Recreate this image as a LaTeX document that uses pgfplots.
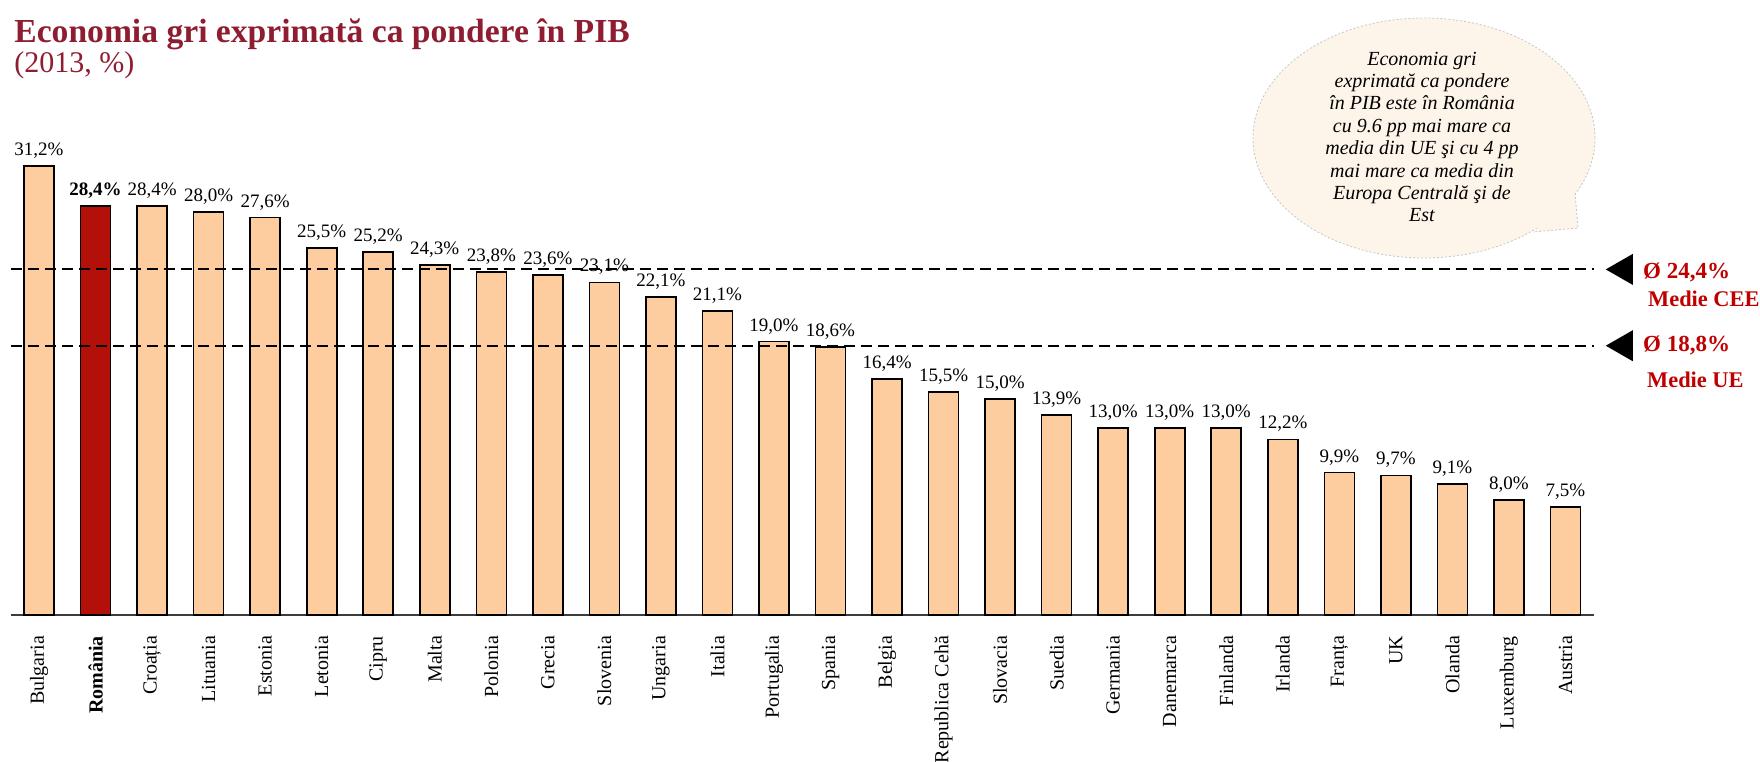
\documentclass[border=0pt]{standalone}
\usepackage{fontspec}
\setmainfont{Liberation Serif}
\usepackage{pgfplots}
\pgfplotsset{compat=1.18}
\usetikzlibrary{calc}

\definecolor{peach}{RGB}{253,205,160}
\definecolor{rored}{RGB}{178,16,8}
\definecolor{titlered}{RGB}{143,29,49}
\definecolor{avgred}{RGB}{192,0,0}
\definecolor{bubble}{RGB}{253,245,233}
\definecolor{axisgray}{RGB}{60,60,60}

% values in %, 2013
\pgfplotstableread{
x y
0 31.2
2 28.4
3 28.0
4 27.6
5 25.5
6 25.2
7 24.3
8 23.8
9 23.6
10 23.1
11 22.1
12 21.1
13 19.0
14 18.6
15 16.4
16 15.5
17 15.0
18 13.9
19 13.0
20 13.0
21 13.0
22 12.2
23 9.9
24 9.7
25 9.1
26 8.0
27 7.5
}\others

\begin{document}
\begin{tikzpicture}
\path[use as bounding box] (0,0) rectangle (880pt,380.5pt);

% title
\node[anchor=base west, inner sep=0, text=titlered, font=\bfseries\fontsize{16.8}{19}\selectfont]
  at (7pt,359pt) {Economia gri exprimată ca pondere în PIB};
\node[anchor=base west, inner sep=0, text=titlered, font=\fontsize{15}{17}\selectfont]
  at (7pt,344pt) {(2013, \%)};

% callout
\fill[bubble] (712pt,311.5pt) ellipse [x radius=85.5pt, y radius=60pt];
\draw[gray!45, dash pattern=on 1pt off 1pt, line width=0.4pt] (712pt,311.5pt) ellipse [x radius=85.5pt, y radius=60pt];
\fill[bubble] (787.5pt,284pt) -- (789pt,266.5pt) -- (766.5pt,264.5pt) -- cycle;
\draw[gray!45, dash pattern=on 1pt off 1pt, line width=0.4pt] (787.5pt,284pt) -- (789pt,266.5pt) -- (766.5pt,264.5pt);
\node[align=center, font=\itshape\fontsize{10}{11.2}\selectfont] at (711pt,312pt)
  {Economia gri\\exprimată ca pondere\\în PIB este în România\\cu 9.6 pp mai mare ca\\media din UE şi cu 4 pp\\mai mare ca media din\\Europa Centrală şi de\\Est};

\begin{axis}[
  at={(5.375pt,73pt)}, anchor=south west,
  scale only axis, width=791.5pt, height=230.4pt,
  xmin=-0.5, xmax=27.5, ymin=0, ymax=32,
  axis x line*=bottom, axis y line=none,
  x axis line style={-, line width=1pt, color=axisgray},
  xtick={0,...,27}, major tick length=0pt,
  xticklabels={Bulgaria,\textbf{România},Croația,Lituania,Estonia,Letonia,Cipru,Malta,Polonia,Grecia,Slovenia,Ungaria,Italia,Portugalia,Spania,Belgia,Republica Cehă,Slovacia,Suedia,Germania,Danemarca,Finlanda,Irlanda,Franța,UK,Olanda,Luxemburg,Austria},
  xticklabel style={rotate=90, anchor=east, font=\fontsize{10}{12}\selectfont, xshift=-7pt},
  clip=false,
  /pgf/number format/.cd, fixed, fixed zerofill, precision=1, use comma, assume math mode=true,
  /pgfplots/.cd,
  nodes near coords={\pgfmathprintnumber{\pgfplotspointmeta}\%},
  every node near coord/.append style={font=\fontsize{9.5}{11}\selectfont, text=black},
]
\addplot[ybar, bar width=15pt, bar shift=0pt, fill=peach, draw=black, line width=0.8pt] table[x=x,y=y] {\others};
\addplot[ybar, bar width=15pt, bar shift=0pt, fill=rored, draw=black, line width=0.8pt,
  every node near coord/.append style={font=\bfseries\fontsize{9.5}{11}\selectfont}] coordinates {(1,28.4)};

% average lines (CEE 24,4 and UE 18,8), drawn where the reference draws them
\draw[black, line width=1pt, dash pattern=on 5.5pt off 3pt] (axis cs:-0.5,24.0) -- (axis cs:27.5,24.0);
\draw[black, line width=1pt, dash pattern=on 5.5pt off 3pt] (axis cs:-0.5,18.7) -- (axis cs:27.5,18.7);
\coordinate (cee) at (axis cs:27.5,24.0);
\coordinate (ue) at (axis cs:27.5,18.7);
\end{axis}

\fill[black] ($(cee)+(6pt,0)$) -- ($(cee)+(19.5pt,7.75pt)$) -- ($(cee)+(19.5pt,-7.75pt)$) -- cycle;
\fill[black] ($(ue)+(6pt,0)$) -- ($(ue)+(19.5pt,7.75pt)$) -- ($(ue)+(19.5pt,-7.75pt)$) -- cycle;
\node[anchor=west, inner sep=0, text=avgred, font=\bfseries\fontsize{11.5}{13}\selectfont] at ($(cee)+(24.5pt,-1.5pt)$) {Ø 24,4\%};
\node[anchor=west, inner sep=0, text=avgred, font=\bfseries\fontsize{11.2}{13}\selectfont] at ($(cee)+(27pt,-14.5pt)$) {Medie CEE};
\node[anchor=west, inner sep=0, text=avgred, font=\bfseries\fontsize{11.5}{13}\selectfont] at ($(ue)+(24.5pt,0pt)$) {Ø 18,8\%};
\node[anchor=west, inner sep=0, text=avgred, font=\bfseries\fontsize{11.2}{13}\selectfont] at ($(ue)+(26.5pt,-17pt)$) {Medie UE};
\end{tikzpicture}
\end{document}
